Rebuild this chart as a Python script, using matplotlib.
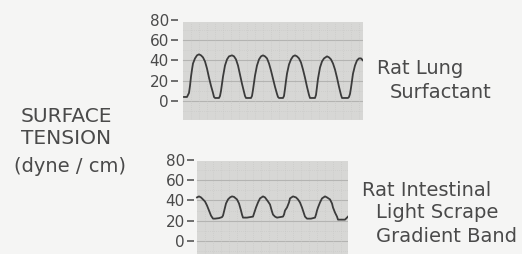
import matplotlib
matplotlib.use("Agg")
import matplotlib.pyplot as plt
from matplotlib.patches import Rectangle

# ---------------- data ----------------
lung_t = [1, 4, 6, 7, 8, 9, 10, 12, 14, 16, 18, 20, 22, 24, 26, 28, 30, 31, 32, 36, 37,
          38, 39, 40, 42, 44, 46, 49, 51, 53, 55, 57, 59, 61, 62, 63, 68, 69,
          70, 71, 72, 74, 76, 78, 80, 82, 84, 86, 88, 90, 92, 94, 95, 96, 100, 101,
          102, 103, 104, 106, 108, 110, 112, 114, 116, 118, 120, 122, 124, 126, 127, 132, 133,
          134, 135, 137, 139, 141, 144, 146, 148, 150, 152, 154, 156, 158, 159, 165, 166, 167,
          168, 169, 170, 172, 174, 176, 178, 180]
lung_st = [4, 4, 8, 15, 24, 31, 37, 42, 45, 46, 45, 43, 39, 32, 23, 15, 8, 4, 3, 3, 5,
           10, 17, 24, 35, 41, 44, 45, 44, 41, 35, 26, 17, 9, 5, 3, 3, 5,
           11, 18, 25, 35, 41, 44, 45, 44, 42, 37, 30, 22, 14, 7, 4, 3, 3, 5,
           12, 20, 27, 36, 41, 44, 45, 44, 42, 38, 31, 23, 14, 6, 3, 3, 6,
           14, 22, 33, 39, 42, 44, 43, 41, 37, 31, 23, 14, 6, 3, 3, 4, 7,
           13, 20, 27, 35, 40, 42, 42, 40]

gut_t = [0, 2, 4, 6, 8, 10, 12, 14, 16, 18, 22, 25, 26, 27, 28, 29, 31, 33, 35, 37, 40, 42, 44, 45, 46,
         50, 53, 56, 57, 58, 59, 61, 63, 66, 68, 71, 73, 75, 76, 78, 80, 86, 87, 88,
         90, 92, 93, 96, 99, 101, 103, 105, 107, 108, 110, 114, 118, 119, 120, 121, 123, 125,
         128, 130, 133, 135, 136, 138, 140, 141, 145, 148, 151]
gut_st = [43, 44, 43, 41, 39, 35, 30, 25, 22, 22, 22.5, 23.5, 25, 29, 33, 37, 41, 43, 44, 43.5, 41, 37, 30, 26, 23,
          23, 23.5, 24, 27, 30, 33, 38, 42, 44, 43, 39, 36, 29, 26, 24, 23, 24, 26, 30,
          33, 38, 42, 44, 43, 41, 38, 33, 27, 24, 22, 22, 23, 26, 30, 33, 38, 42,
          44, 43, 41, 37, 33, 28, 24, 21, 21, 21, 24]

yticks = [0, 20, 40, 60, 80]
ytick_labels = ["0", "20", "40", "60", "80"]

# ---------------- styling ----------------
W, H = 522, 254
BG = "#f5f5f4"
BOX = "#d7d7d5"
INK = "#3b3b3b"
TXT = "#4a4a4a"
plt.rcParams["font.family"] = ["DejaVu Sans"]

fig = plt.figure(figsize=(W / 100, H / 100), dpi=100, facecolor=BG)


def panel(rect, t, v, box_w, box_lo, box_hi, xlo, ylo, yhi):
    ax = fig.add_axes(rect)
    ax.set_facecolor("none")
    for s in ax.spines.values():
        s.set_visible(False)
    ax.set_xlim(xlo, box_w)
    ax.set_ylim(ylo, yhi)
    ax.add_patch(Rectangle((0, box_lo), box_w, box_hi - box_lo, facecolor=BOX,
                           edgecolor="none", zorder=0))
    # graph-paper grid
    for gy in range(-10, int(box_hi) + 1, 10):
        if box_lo < gy < box_hi:
            major = gy % 20 == 0
            ax.plot([0, box_w], [gy, gy], color="#b4b4b2" if major else "#c8c8c6",
                    lw=0.8 if major else 0.5, ls="-" if major else (0, (1, 2)), zorder=1)
    for gx in range(8, int(box_w), 8):
        ax.plot([gx, gx], [box_lo, box_hi], color="#c6c6c4", lw=0.5,
                ls=(0, (1, 2)), zorder=1)
    ax.plot(t, v, color=INK, lw=1.3, solid_joinstyle="round", zorder=3)
    ax.set_xticks([])
    ax.set_yticks(yticks)
    ax.set_yticklabels(ytick_labels)
    ax.tick_params(axis="y", direction="out", length=5, width=1.1, pad=1.5,
                   color=TXT, labelcolor=TXT, labelsize=11)
    return ax


# top panel: box x 183-363 px, y 22-120 px
panel([178 / W, (H - 120) / H, (363 - 178) / W, (120 - 17.8) / H],
      lung_t, lung_st, 180, -18.7, 77.8, -5, -18.7, 82)
# bottom panel: box x 197-348 px, y 161-254 px
panel([194 / W, 0.0, (348 - 194) / W, (254 - 158) / H],
      gut_t, gut_st, 151, -13, 79, -3, -13, 82)

def ftxt(x, y, s, size=14, **kw):
    fig.text(x / W, 1 - y / H, s, color=TXT, fontsize=size, va="center", **kw)

ftxt(66, 116, "SURFACE", ha="center", size=14.5)
ftxt(66, 139, "TENSION", ha="center", size=14.5)
ftxt(70, 166, "(dyne / cm)", ha="center")

ftxt(377, 69, "Rat Lung", ha="left")
ftxt(390, 92, "Surfactant", ha="left")

ftxt(362, 190, "Rat Intestinal", ha="left")
ftxt(376, 213, "Light Scrape", ha="left")
ftxt(376, 236, "Gradient Band", ha="left")

fig.savefig("out.png", dpi=100, facecolor=BG)
